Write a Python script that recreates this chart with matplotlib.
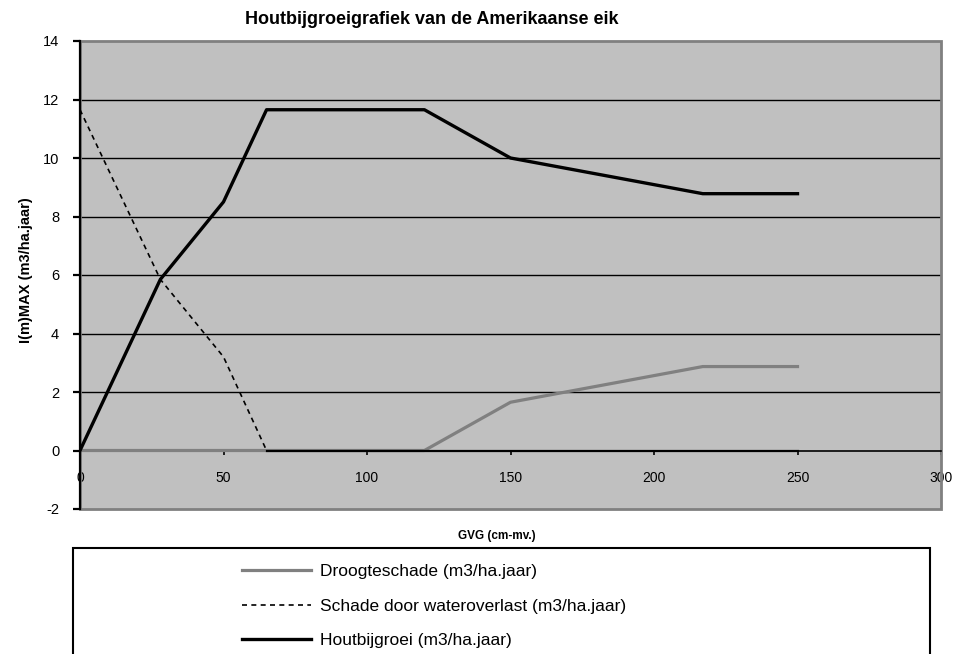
import matplotlib.pyplot as plt
from matplotlib.patches import Rectangle

plt.rcParams['font.family'] = ['Liberation Sans', 'DejaVu Sans']

# GVG (cm-mv.) and series values
gvg = [0, 28, 50, 65, 120, 150, 217, 250]
droogteschade = [0, 0, 0, 0, 0, 1.65, 2.87, 2.87]
wateroverlast = [11.65, 5.85, 3.2, 0, 0, 0, 0, 0]
houtbijgroei = [0, 5.85, 8.5, 11.65, 11.65, 10.0, 8.78, 8.78]

x_ticks = [0, 50, 100, 150, 200, 250, 300]
y_ticks = [-2, 0, 2, 4, 6, 8, 10, 12, 14]

fig = plt.figure(figsize=(9.56, 6.54), dpi=100)
ax = fig.add_axes([80 / 956, 1 - 509 / 654, 861 / 956, 468 / 654])
ax.set_facecolor('#C0C0C0')

# data
l1, = ax.plot(gvg, droogteschade, color='#808080', lw=2.3, zorder=3,
              label='Droogteschade (m3/ha.jaar)')
k = wateroverlast.index(0)
l2, = ax.plot(gvg[:k + 1], wateroverlast[:k + 1], color='black', lw=1.2,
              dashes=(3, 2.6), zorder=4,
              label='Schade door wateroverlast (m3/ha.jaar)')
ax.plot(gvg[k:], wateroverlast[k:], color='black', lw=1.6, zorder=4)
l3, = ax.plot(gvg, houtbijgroei, color='black', lw=2.4, zorder=5,
              label='Houtbijgroei (m3/ha.jaar)')

ax.set_xlim(0, 300)
ax.set_ylim(-2, 14)
ax.set_xticks(x_ticks)
ax.set_yticks(y_ticks)
ax.set_xticklabels([str(v) for v in x_ticks], fontsize=10.5)
ax.set_yticklabels([str(v) for v in y_ticks], fontsize=10.5)

for v in y_ticks[2:-1]:
    ax.axhline(v, color='black', lw=1, zorder=1)

# frame
ax.add_patch(Rectangle((0, 0), 1, 1, transform=ax.transAxes, fill=False,
                       edgecolor='#808080', lw=2, zorder=2, clip_on=False))
ax.spines['top'].set_visible(False)
ax.spines['right'].set_visible(False)
ax.spines['left'].set_color('black')
ax.spines['left'].set_linewidth(1.6)
ax.spines['left'].set_zorder(6)
ax.spines['bottom'].set_position(('data', 0))
ax.spines['bottom'].set_color('black')
ax.spines['bottom'].set_linewidth(1.2)

ax.tick_params(axis='y', direction='out', length=5, width=1.6, pad=10)
ax.tick_params(axis='x', direction='out', length=3, width=1.2, pad=12)
for lab in ax.get_xticklabels():
    lab.set_zorder(7)

ax.set_ylabel('I(m)MAX (m3/ha.jaar)', fontsize=10.5, fontweight='bold')
ax.yaxis.set_label_coords(-47 / 861, 0.51)

fig.text(497 / 956, 1 - 536 / 654, 'GVG (cm-mv.)', fontsize=8.5,
         fontweight='bold', ha='center', va='center')
fig.text(432 / 956, 1 - 20 / 654, 'Houtbijgroeigrafiek van de Amerikaanse eik',
         fontsize=13, fontweight='bold', ha='center', va='center')

# legend box (runs off the bottom like the original)
fig.patches.append(Rectangle((73 / 956, -0.05), 857 / 956, 0.05 + 1 - 548 / 654,
                             transform=fig.transFigure, fill=False,
                             edgecolor='black', lw=1.5))
fig.legend(handles=[l1, l2, l3], loc='upper left',
           bbox_to_anchor=(242 / 956, 1 - 564 / 654), frameon=False,
           fontsize=12.5, handlelength=4.0, handletextpad=0.5,
           labelspacing=1.12, borderpad=0, borderaxespad=0)

fig.savefig('out.png', dpi=100)
